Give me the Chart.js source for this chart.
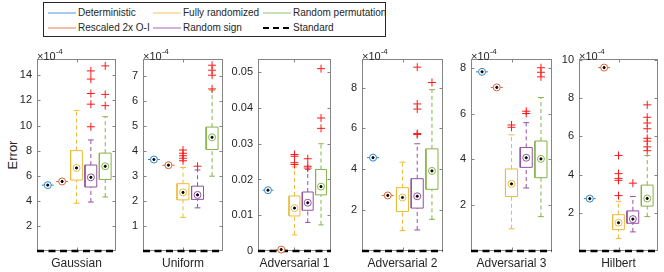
<!DOCTYPE html>
<html><head><meta charset="utf-8">
<script src="https://cdn.jsdelivr.net/npm/chart.js@4.4.1/dist/chart.umd.min.js"></script>
<style>
html,body{margin:0;padding:0;background:#fff;}
body{width:664px;height:272px;overflow:hidden;position:relative;font-family:"Liberation Sans",Arial,Helvetica,sans-serif;color:#262626;}
canvas{position:absolute;}
.exp{position:absolute;font-size:11px;line-height:11px;white-space:nowrap;color:#262626;}
.exp sup{font-size:8px;position:relative;top:-1px;}
#legend{position:absolute;left:43px;top:2px;width:341px;height:33px;border:1px solid #262626;background:#fff;}
.li{position:absolute;font-size:10px;line-height:12px;white-space:nowrap;}
.li svg{position:absolute;left:0;top:0;}
.li span{position:absolute;left:31px;top:0;}
#ylab{position:absolute;left:12px;top:155px;transform:translate(-50%,-50%) rotate(-90deg);font-size:13px;white-space:nowrap;}
</style></head><body>
<div id="legend"></div>
<div id="ylab">Error</div>
<script>
// ---------------- data ----------------
const panelNames = ['Gaussian','Uniform','Adversarial 1','Adversarial 2','Adversarial 3','Hilbert'];
const seriesNames = ['Deterministic','Rescaled 2x O-I','Fully randomized','Random sign','Random permutation','Standard'];
const exponentLabels = ['-4','-4','','-4','-4','-4'];
// single-value methods (Gaussian..Hilbert); units: x10^-4 except Adversarial 1 (absolute)
const deterministic = [5.25, 3.67, 0.0170, 4.57, 7.82, 2.74];
const rescaled      = [5.54, 3.44, 0.0004, 2.72, 7.14, 9.60];
const standard      = [0, 0, 0, 0, 0, 0];
// box stats: [lower whisker, q1, median, q3, upper whisker]
const fullyBox = [
  [3.80, 5.65, 6.62, 8.00, 11.20],
  [1.35, 2.05, 2.35, 2.70, 3.35],
  [0.0045, 0.0098, 0.0120, 0.0154, 0.0235],
  [1.00, 1.93, 2.62, 3.10, 4.35],
  [0.97, 2.38, 2.93, 3.58, 5.07],
  [0.65, 1.12, 1.48, 1.90, 2.60]
];
const fullyOut = [
  [],
  [3.62, 3.72, 3.82, 3.92, 4.05],
  [0.0242, 0.0247, 0.0265, 0.0270],
  [],
  [5.40, 5.50],
  [2.90, 3.70, 3.80, 4.05, 5.00]
];
const signBox = [
  [3.90, 5.10, 5.87, 6.85, 8.85],
  [1.73, 2.07, 2.25, 2.60, 3.25],
  [0.0080, 0.0114, 0.0135, 0.0165, 0.0228],
  [1.03, 2.10, 2.68, 3.54, 5.25],
  [2.75, 3.65, 4.07, 4.52, 5.60],
  [1.00, 1.45, 1.67, 2.10, 2.85]
];
const signOut = [
  [9.90, 11.70, 12.55, 13.70, 14.35],
  [3.40],
  [0.0232, 0.0237, 0.0258],
  [5.70, 5.75, 6.95, 7.20, 9.00],
  [6.00, 6.10],
  [3.55]
];
const permBox = [
  [4.30, 5.70, 6.75, 7.80, 10.70],
  [3.00, 4.07, 4.56, 4.97, 6.45],
  [0.0073, 0.0157, 0.0180, 0.0228, 0.0300],
  [1.55, 3.02, 3.92, 5.00, 7.90],
  [1.50, 3.20, 4.02, 4.80, 6.70],
  [1.80, 2.35, 2.75, 3.45, 5.00]
];
const permOut = [
  [11.58, 12.48, 14.75],
  [6.50, 7.05, 7.25, 7.45],
  [0.0343, 0.0372, 0.0510],
  [8.25],
  [7.60, 7.80, 8.00],
  [5.25, 5.45, 5.75, 5.90, 6.40, 6.70, 7.00, 7.65]
];
const yMax = [15.3, 7.7, 0.0537, 9.4, 8.38, 10.05];
const yTickValues = [
  [2,4,6,8,10,12,14],
  [1,2,3,4,5,6,7],
  [0,0.01,0.02,0.03,0.04,0.05],
  [2,4,6,8],
  [2,4,6,8],
  [2,4,6,8,10]
];
const yTickLabels = [
  ['2','4','6','8','10','12','14'],
  ['1','2','3','4','5','6','7'],
  ['0','0.01','0.02','0.03','0.04','0.05'],
  ['2','4','6','8'],
  ['2','4','6','8'],
  ['2','4','6','8','10']
];
const groupPositions = [-2,-1,0,1,2]; // Det, Rescaled, Fully, Sign, Perm

// ---------------- style / layout ----------------
const COLORS = ['#2f86cc','#dc6436','#eebb3a','#9350a6','#85b447','#000000'];
const LEGEND_COLORS = ['#6fa9dc','#e8946e','#f3cf7a','#b184c0','#a8cc82','#000000'];
const OUTLIER = '#FF1a1a';
const TEXT = '#262626';
const FRAME = '#858585';
const plotLeft  = [37,143,258,362,471,579];
const plotRight = [118,225,334,445,554,660];
const CANVAS_TOP = 40, CANVAS_H = 232, PAD_TOP = 19, XAXIS_H = 21, AXIS_W = 32, PAD_R = 3;
const XHALF = 2.75, BOX_HW = 0.41, CAP_HW = 0.2;

Chart.defaults.font.family = '"Liberation Sans", Arial, Helvetica, sans-serif';
Chart.defaults.color = TEXT;

const axesFrame = {
  id: 'axesFrame',
  beforeDatasetsDraw(chart) {
    const {ctx, chartArea: a, scales: {x, y}} = chart;
    ctx.save();
    ctx.strokeStyle = FRAME; ctx.lineWidth = 1;
    const l = Math.round(a.left) + 0.5, r = Math.round(a.right) - 0.5;
    const t = Math.round(a.top) + 0.5, b = Math.round(a.bottom) - 0.5;
    ctx.strokeRect(l, t, r - l, b - t);
    ctx.beginPath();
    y.ticks.forEach(tk => {
      const py = Math.round(y.getPixelForValue(tk.value)) + 0.5;
      ctx.moveTo(l, py); ctx.lineTo(l + 3, py);
      ctx.moveTo(r, py); ctx.lineTo(r - 3, py);
    });
    x.ticks.forEach(tk => {
      const px = Math.round(x.getPixelForValue(tk.value)) + 0.5;
      ctx.moveTo(px, t); ctx.lineTo(px, t + 3);
      ctx.moveTo(px, b); ctx.lineTo(px, b - 3);
    });
    ctx.stroke();
    ctx.restore();
  }
};

function lineDs(pts, color, dash, width) {
  return {type: 'line', data: pts.map(p => ({x: p[0], y: p[1]})), borderColor: color,
    borderWidth: width || 1, borderDash: dash || [], pointRadius: 0, pointHoverRadius: 0,
    fill: false, tension: 0, clip: false};
}
function pointDs(pts, style, radius, color, fillColor) {
  return {type: 'scatter', data: pts.map(p => ({x: p[0], y: p[1]})), showLine: false,
    pointStyle: style, pointRadius: radius, pointHoverRadius: radius,
    pointBorderColor: color, pointBackgroundColor: fillColor, pointBorderWidth: 1,
    borderColor: color, backgroundColor: fillColor, clip: false};
}

function makePanel(i) {
  const L = plotLeft[i], R = plotRight[i];
  const cw = (R - L) + AXIS_W + PAD_R;
  const cv = document.createElement('canvas');
  cv.width = cw; cv.height = CANVAS_H;
  cv.style.left = (L - AXIS_W) + 'px'; cv.style.top = CANVAS_TOP + 'px';
  cv.style.width = cw + 'px'; cv.style.height = CANVAS_H + 'px';
  document.body.appendChild(cv);

  const layers = []; // bottom -> top
  layers.push(lineDs([[-XHALF, standard[i]], [XHALF, standard[i]]], COLORS[5], [7, 4.5], 2.5));
  const singles = [deterministic[i], rescaled[i]];
  singles.forEach((v, k) => {
    const px = groupPositions[k];
    layers.push(lineDs([[px - BOX_HW, v], [px + BOX_HW, v]], COLORS[k]));
    layers.push(pointDs([[px, v]], 'circle', 3.5, COLORS[k], '#ffffff'));
    layers.push(pointDs([[px, v]], 'circle', 1.1, '#000', '#000'));
  });
  const boxes = [fullyBox[i], signBox[i], permBox[i]];
  const outs = [fullyOut[i], signOut[i], permOut[i]];
  boxes.forEach((s, k) => {
    const c = COLORS[k + 2], px = groupPositions[k + 2];
    const [wl, q1, med, q3, wh] = s;
    layers.push(lineDs([[px, q3], [px, wh]], c, [4, 3]));
    layers.push(lineDs([[px, wl], [px, q1]], c, [4, 3]));
    layers.push(lineDs([[px - CAP_HW, wh], [px + CAP_HW, wh]], c));
    layers.push(lineDs([[px - CAP_HW, wl], [px + CAP_HW, wl]], c));
    layers.push(lineDs([[px - BOX_HW, q1], [px + BOX_HW, q1], [px + BOX_HW, q3], [px - BOX_HW, q3], [px - BOX_HW, q1]], c));
    layers.push(pointDs([[px, med]], 'circle', 3.5, c, 'rgba(0,0,0,0)'));
    layers.push(pointDs([[px, med]], 'circle', 1.1, '#000', '#000'));
    if (outs[k].length) layers.push(pointDs(outs[k].map(v => [px, v]), 'cross', 4, OUTLIER, OUTLIER));
  });
  const datasets = layers.reverse();

  new Chart(cv, {
    type: 'scatter',
    data: {datasets},
    plugins: [axesFrame],
    options: {
      responsive: false, animation: false, devicePixelRatio: 1,
      layout: {padding: {top: PAD_TOP, right: PAD_R, left: 0, bottom: 0}},
      plugins: {legend: {display: false}, tooltip: {enabled: false}},
      events: [],
      scales: {
        x: {type: 'linear', min: -XHALF, max: XHALF, offset: false,
          grid: {display: false, drawTicks: false}, border: {display: false},
          afterBuildTicks: s => { s.ticks = [{value: 0}]; },
          afterFit: s => { s.height = XAXIS_H; },
          ticks: {autoSkip: false, maxRotation: 0, padding: 5, color: TEXT, font: {size: 12},
            callback: () => panelNames[i]}},
        y: {type: 'linear', min: 0, max: yMax[i],
          grid: {display: false, drawTicks: false}, border: {display: false},
          afterBuildTicks: s => { s.ticks = yTickValues[i].map(v => ({value: v})); },
          afterFit: s => { s.width = AXIS_W; },
          ticks: {autoSkip: false, padding: 5, color: TEXT, font: {size: 11},
            callback: (v, idx) => yTickLabels[i][idx]}}
      }
    }
  });

  if (exponentLabels[i]) {
    const d = document.createElement('div');
    d.className = 'exp';
    d.style.left = L + 'px'; d.style.top = '47px';
    d.innerHTML = '×10<sup>' + exponentLabels[i] + '</sup>';
    document.body.appendChild(d);
  }
}
for (let i = 0; i < panelNames.length; i++) makePanel(i);

// legend (column-major, 3 columns)
const legend = document.getElementById('legend');
const colX = [3, 108, 218], rowY = [4, 19];
seriesNames.forEach((name, k) => {
  const col = Math.floor(k / 2), row = k % 2;
  const item = document.createElement('div');
  item.className = 'li';
  item.style.left = colX[col] + 'px'; item.style.top = rowY[row] + 'px';
  const isStd = k === 5;
  item.innerHTML = '<svg width="30" height="12"><line x1="1" y1="6" x2="' + (isStd ? 30 : 29) + '" y2="6" stroke="' + LEGEND_COLORS[k] + '" stroke-width="' + (isStd ? 2.2 : 1.2) + '"' + (isStd ? ' stroke-dasharray="6,4"' : '') + '/></svg><span>' + name + '</span>';
  legend.appendChild(item);
});
</script>
</body></html>
